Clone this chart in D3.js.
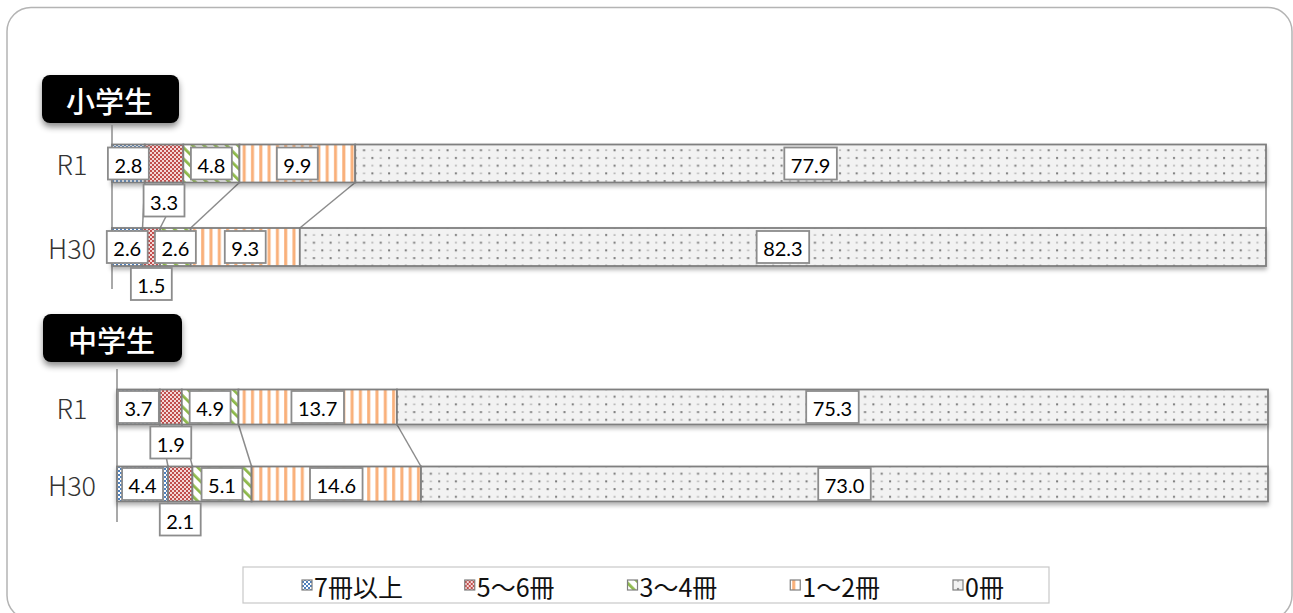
<!DOCTYPE html>
<html><head><meta charset="utf-8">
<script src="https://cdn.jsdelivr.net/npm/d3@7/dist/d3.min.js"></script>
<style>body{margin:0;background:#fff} svg{display:block}</style>
</head><body>
<svg id="c" width="1293" height="613"></svg>
<script>
// ---- data ----
const groups = ["小学生", "中学生"];
const years = ["R1", "H30"];
const seriesNames = ["7冊以上", "5〜6冊", "3〜4冊", "1〜2冊", "0冊"];
const elemR1  = [2.8, 3.3, 4.8, 9.9, 77.9];
const elemH30 = [2.6, 1.5, 2.6, 9.3, 82.3];
const midR1   = [3.7, 1.9, 4.9, 13.7, 75.3];
const midH30  = [4.4, 2.1, 5.1, 14.6, 73.0];

const svg = d3.select("#c");
const defs = svg.append("defs");

// ---- patterns ----
function pat(id, w, h, transform) {
  const p = defs.append("pattern").attr("id", id).attr("patternUnits", "userSpaceOnUse")
    .attr("width", w).attr("height", h);
  if (transform) p.attr("patternTransform", transform);
  return p;
}
let p;
p = pat("p0", 4, 4);
p.append("rect").attr("width", 4).attr("height", 4).attr("fill", "#fff");
p.append("rect").attr("width", 2).attr("height", 2).attr("fill", "#4F81BD");
p.append("rect").attr("x", 2).attr("y", 2).attr("width", 2).attr("height", 2).attr("fill", "#4F81BD");
p = pat("p1", 4, 4);
p.append("rect").attr("width", 4).attr("height", 4).attr("fill", "#f4d8d8");
p.append("rect").attr("width", 2).attr("height", 2).attr("fill", "#C0504D");
p.append("rect").attr("x", 2).attr("y", 2).attr("width", 2).attr("height", 2).attr("fill", "#C0504D");
p = pat("p2", 8, 8, "rotate(-45)");
p.append("rect").attr("width", 8).attr("height", 8).attr("fill", "#fff");
p.append("rect").attr("width", 2.8).attr("height", 8).attr("fill", "#8DB84A");
p = pat("p3", 8.3, 8);
p.append("rect").attr("width", 8.3).attr("height", 8).attr("fill", "#fff");
p.append("rect").attr("x", 2).attr("width", 3).attr("height", 8).attr("fill", "#F9B07A");
p = pat("p4", 16.7, 15.4);
p.append("rect").attr("width", 16.7).attr("height", 15.4).attr("fill", "#F2F2F2");
p.append("rect").attr("x", 4).attr("y", 3).attr("width", 2).attr("height", 2).attr("fill", "#7a7a7a");
p.append("rect").attr("x", 12.35).attr("y", 10.7).attr("width", 2).attr("height", 2).attr("fill", "#7a7a7a");
p.append("rect").attr("x", 4).attr("y", 11).attr("width", 2).attr("height", 1.2).attr("fill", "#a0a0a0");
p.append("rect").attr("x", 12.35).attr("y", 3.4).attr("width", 2).attr("height", 1.2).attr("fill", "#a0a0a0");
const fills = seriesNames.map((_, i) => `url(#p${i})`);

// ---- filters ----
const f1 = defs.append("filter").attr("id", "barShadow").attr("x", "-5%").attr("y", "-30%").attr("width", "110%").attr("height", "170%");
f1.append("feDropShadow").attr("dx", 0).attr("dy", 3).attr("stdDeviation", 2).attr("flood-color", "#000").attr("flood-opacity", 0.3);
const f2 = defs.append("filter").attr("id", "hdrShadow").attr("x", "-20%").attr("y", "-30%").attr("width", "140%").attr("height", "180%");
f2.append("feDropShadow").attr("dx", 0).attr("dy", 4).attr("stdDeviation", 3).attr("flood-color", "#000").attr("flood-opacity", 0.45);

// ---- frame ----
svg.append("rect").attr("x", 7).attr("y", 7.5).attr("width", 1285).attr("height", 612).attr("rx", 24)
  .attr("fill", "none").attr("stroke", "#b4b4b4").attr("stroke-width", 1.5);

// ---- panels ----
const panels = [
  { name: groups[0], rows: [elemR1, elemH30], x0: 112, x1: 1266, yTop: 163.5, yBot: 247, bh: 38,
    hdr: [42, 75, 137, 48], axis: [125, 289] },
  { name: groups[1], rows: [midR1, midH30], x0: 117, x1: 1268, yTop: 407, yBot: 484, bh: 35,
    hdr: [43, 314, 139, 48], axis: [369, 522] }
];

const stack = d3.stack().keys(seriesNames).offset(d3.stackOffsetExpand);
const fmt = d3.format(".1f");

panels.forEach(pn => {
  const g = svg.append("g");
  const rows = pn.rows.map((vals, ri) => {
    const o = { year: years[ri] };
    seriesNames.forEach((s, i) => o[s] = vals[i]);
    return o;
  });
  const stacked = stack(rows);
  const x = d3.scaleLinear().domain([0, 1]).range([pn.x0, pn.x1]);
  const y = d3.scalePoint().domain(years).range([pn.yTop, pn.yBot]);
  const bh = pn.bh;

  // header
  const [hx, hy, hw, hh] = pn.hdr;
  g.append("rect").attr("x", hx).attr("y", hy).attr("width", hw).attr("height", hh).attr("rx", 8)
    .attr("fill", "#000").attr("filter", "url(#hdrShadow)");
  g.append("text").attr("x", hx + hw / 2 - 1).attr("y", hy + hh / 2 + 1).attr("text-anchor", "middle")
    .attr("dominant-baseline", "central").attr("fill", "#fff")
    .attr("font-family", "'Noto Sans CJK JP', sans-serif").attr("font-weight", 500).attr("font-size", 29)
    .text(pn.name);

  // axis line
  g.append("line").attr("x1", x(0)).attr("x2", x(0)).attr("y1", pn.axis[0]).attr("y2", pn.axis[1])
    .attr("stroke", "#8c8c8c").attr("stroke-width", 1.5);

  // category labels
  g.selectAll(".cat").data(years).join("text")
    .attr("x", 72).attr("y", d => y(d)).attr("text-anchor", "middle").attr("dominant-baseline", "central")
    .attr("font-family", "'Noto Sans CJK JP', 'Noto Sans', sans-serif").attr("font-weight", 300)
    .attr("font-size", 27).attr("fill", "#333").text(d => d);

  // series lines
  const sl = [];
  stacked.forEach(layer => {
    sl.push({ xa: x(layer[0][1]), ya: y(years[0]) + bh / 2, xb: x(layer[1][1]), yb: y(years[1]) - bh / 2 });
  });
  g.selectAll(".sl").data(sl).join("line")
    .attr("x1", d => d.xa).attr("y1", d => d.ya).attr("x2", d => d.xb).attr("y2", d => d.yb)
    .attr("stroke", "#8c8c8c").attr("stroke-width", 1.5);

  // bars
  const bars = g.append("g").attr("filter", "url(#barShadow)");
  stacked.forEach((layer, si) => {
    bars.selectAll(null).data(layer).join("rect")
      .attr("x", d => x(d[0])).attr("width", d => x(d[1]) - x(d[0]))
      .attr("y", d => y(d.data.year) - bh / 2).attr("height", bh)
      .attr("fill", fills[si]).attr("stroke", "#7f7f7f").attr("stroke-width", 1.8);
  });

  // labels
  stacked.forEach((layer, si) => {
    layer.forEach(d => {
      const cx = (x(d[0]) + x(d[1])) / 2;
      const below = si === 1;
      const cy = below ? y(d.data.year) + bh / 2 + 2 + 16 : y(d.data.year);
      const lg = g.append("g");
      const r = lg.append("rect");
      const t = lg.append("text").attr("x", cx).attr("y", cy + 1).attr("text-anchor", "middle")
        .attr("dominant-baseline", "central").attr("font-family", "Lato, 'Open Sans', sans-serif")
        .attr("font-size", 20).attr("fill", "#000").text(fmt(d.data[layer.key]));
      const w = t.node().getComputedTextLength() + 13;
      r.attr("x", cx - w / 2).attr("y", cy - 16).attr("width", w).attr("height", 32)
        .attr("fill", "#fff").attr("stroke", "#8c8c8c").attr("stroke-width", 1.8);
    });
  });
});

// ---- legend ----
const lgd = svg.append("g");
lgd.append("rect").attr("x", 243).attr("y", 567).attr("width", 806).attr("height", 36)
  .attr("fill", "#fff").attr("stroke", "#c8c8c8").attr("stroke-width", 1.2);
const lx = d3.scalePoint().domain(seriesNames).range([302, 953]);
const items = lgd.selectAll(".li").data(seriesNames).join("g").attr("transform", d => `translate(${lx(d)},585)`);
items.append("rect").attr("x", 0).attr("y", -5).attr("width", 10).attr("height", 10)
  .attr("fill", (d, i) => fills[i]).attr("stroke", "#7f7f7f").attr("stroke-width", 1.2);
items.append("text").attr("x", 12).attr("y", 1).attr("dominant-baseline", "central")
  .attr("font-family", "'Noto Sans CJK JP', sans-serif").attr("font-weight", 400).attr("font-size", 25)
  .attr("fill", "#111").text(d => d);
</script>
</body></html>
